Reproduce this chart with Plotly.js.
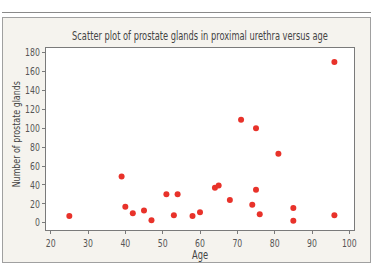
<!DOCTYPE html>
<html>
<head>
<meta charset="utf-8">
<script src="https://cdn.plot.ly/plotly-3.0.1.min.js"></script>
<style>
  html, body { margin: 0; padding: 0; background: #ffffff; }
  #wrap { position: relative; width: 373px; height: 268px; overflow: hidden; }
  /* rule above the panel */
  #rule { position: absolute; left: 2px; top: 12px; width: 369px; height: 0;
          border-top: 1.5px solid #8a8a8a; }
  /* cream panel the chart sits on */
  #panel { position: absolute; left: 2px; top: 17px; width: 367px; height: 244px;
           background: #f5f3ee; border: 1px solid #a0a0a0; }
  #chart { position: absolute; left: 0; top: 0; width: 373px; height: 268px; }
  #chart svg text { font-stretch: condensed; }
</style>
</head>
<body>
<div id="wrap">
  <div id="rule"></div>
  <div id="panel"></div>
  <div id="chart"></div>
</div>
<script>
// Age of each patient (years)
const age = [25, 39, 40, 42, 45, 47, 51, 53, 54, 58, 60, 64, 65, 68, 71, 74, 75, 75, 76, 81, 85, 85, 96, 96];
// Number of prostate glands counted in the proximal urethra
const glands = [7, 49, 17, 10, 13, 2.5, 30, 8, 30, 7, 11, 37, 39.5, 24, 109, 19, 100, 35, 9, 73, 15.5, 2, 8, 170];

const xTicks = [20, 30, 40, 50, 60, 70, 80, 90, 100];
const yTicks = [0, 20, 40, 60, 80, 100, 120, 140, 160, 180];

const chartTitle = 'Scatter plot of prostate glands in proximal urethra versus age';
const xTitle = 'Age';
const yTitle = 'Number of prostate glands';

const FONT = '"DejaVu Sans", sans-serif';

const trace = {
  type: 'scatter',
  mode: 'markers',
  x: age,
  y: glands,
  marker: { color: '#e8322a', size: 6, line: { width: 0 } },
  hoverinfo: 'x+y'
};

// plot area spans 46..354 px horizontally, 48..230 px vertically
const L = 46, R = 354, T = 48, B = 230;
const px = v => (v - L) / (R - L);
const py = v => (B - v) / (B - T);

const axisCommon = {
  showgrid: false,
  zeroline: false,
  showline: true,
  mirror: true,
  linecolor: '#7a7a7a',
  linewidth: 1,
  ticks: 'outside',
  ticklen: 3,
  tickwidth: 1,
  tickcolor: '#7a7a7a',
  tickfont: { family: FONT, size: 10.5, color: '#555555' },
  automargin: false
};

const layout = {
  width: 373,
  height: 268,
  autosize: false,
  margin: { l: L, r: 373 - R, t: T, b: 268 - B, pad: 0 },
  paper_bgcolor: 'rgba(0,0,0,0)',
  plot_bgcolor: '#ffffff',
  showlegend: false,
  title: {
    text: chartTitle,
    font: { family: FONT, size: 11.5, color: '#444444' },
    xref: 'container', yref: 'container',
    x: 200 / 373, xanchor: 'center',
    y: 1 - 36 / 268, yanchor: 'middle'
  },
  xaxis: Object.assign({}, axisCommon, {
    range: [18.75, 101.25],
    tickvals: xTicks,
    ticktext: xTicks.map(String)
  }),
  yaxis: Object.assign({}, axisCommon, {
    range: [-7.7, 184.9],
    tickvals: yTicks,
    ticktext: yTicks.map(String)
  }),
  annotations: [
    {
      text: xTitle, xref: 'paper', yref: 'paper',
      x: px(200), y: py(255), xanchor: 'center', yanchor: 'middle',
      showarrow: false,
      font: { family: FONT, size: 11.5, color: '#444444' }
    },
    {
      text: yTitle, xref: 'paper', yref: 'paper',
      x: px(16), y: py(134), xanchor: 'center', yanchor: 'middle',
      textangle: -90, showarrow: false,
      font: { family: FONT, size: 11, color: '#444444' }
    }
  ]
};

// narrow the labels a little further so the lettering reads like a condensed face
function narrow(gd, selector, factor) {
  gd.querySelectorAll(selector).forEach(t => {
    if (!t.textContent) return;
    const len = t.getComputedTextLength();
    if (len > 0) {
      t.setAttribute('textLength', (len * factor).toFixed(2));
      t.setAttribute('lengthAdjust', 'spacingAndGlyphs');
    }
  });
}

Plotly.newPlot('chart', [trace], layout, { displayModeBar: false, staticPlot: true })
  .then(gd => {
    narrow(gd, 'text.gtitle', 0.80);
    narrow(gd, '.xtick text, .ytick text', 0.82);
    narrow(gd, '.annotation-text', 0.80);
  });
</script>
</body>
</html>
